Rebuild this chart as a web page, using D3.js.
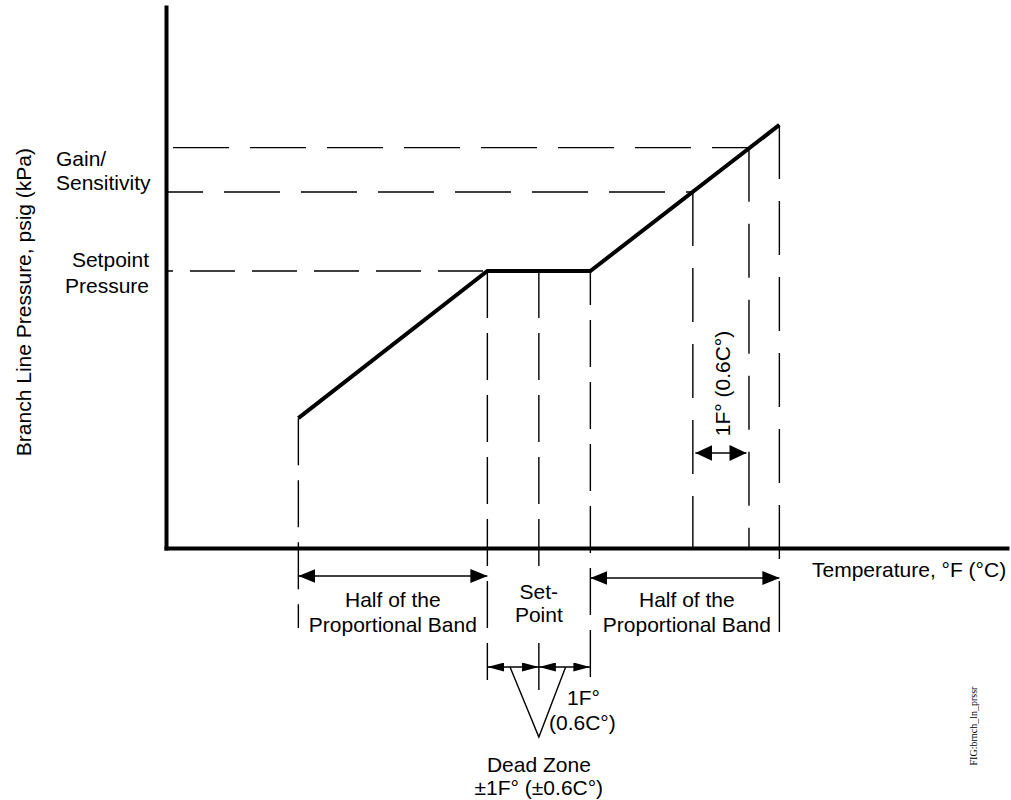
<!DOCTYPE html>
<html><head><meta charset="utf-8">
<script src="https://cdn.jsdelivr.net/npm/d3@7"></script>
<style>
body{margin:0;background:#fff}
svg{display:block}
text{font-family:"Liberation Sans",Arial,Helvetica,sans-serif;fill:#000}
</style>
</head><body>
<svg id="c" width="1011" height="800"></svg>
<script>
// ---------------- data ----------------
// temperature, °F relative to the setpoint
const breakTemps = [-4.67, -1, 1, 4.67];
// branch line pressure, % of full scale
const breakPressures = [24.0, 51.2, 51.2, 78.2];
const setpointTemp = 0;
const deadZoneTemps = [-1, 0, 1];
const gainTemps = [2.99, 4.08];
const gainPressures = [65.8, 74.0];
const setpointPressure = 51.2;
const vApexTemps = [-0.56, 0, 0.52];

const yAxisTitle = "Branch Line Pressure, psig (kPa)";
const xAxisTitle = "Temperature, °F (°C)";
const gainLabel = ["Gain/", "Sensitivity"];
const setpointLabel = ["Setpoint", "Pressure"];
const halfBandLabel = ["Half of the", "Proportional Band"];
const setPointLabel = ["Set-", "Point"];
const oneDegLabel = ["1F°", "(0.6C°)"];
const deadZoneLabel = ["Dead Zone", "±1F° (±0.6C°)"];
const oneDegRotLabel = "1F° (0.6C°)";
const figLabel = "FIG:brnch_ln_prssr";

// ---------------- scales ----------------
const svg = d3.select("#c");
const x = d3.scaleLinear().domain([-7.24, 9.09]).range([166, 1007]);
const y = d3.scaleLinear().domain([0, 100]).range([548, 7]);

const FS = 21;
const thin = 1.4;

// markers
const defs = svg.append("defs");
function marker(id, L, h) {
  defs.append("marker").attr("id", id)
    .attr("viewBox", `0 ${-h} ${L} ${2*h}`)
    .attr("refX", L).attr("refY", 0)
    .attr("markerWidth", L).attr("markerHeight", 2*h)
    .attr("markerUnits", "userSpaceOnUse")
    .attr("orient", "auto-start-reverse")
    .append("path").attr("d", `M0,${-h}L${L},0L0,${h}Z`).attr("fill", "#000");
}
marker("big", 17, 7);
marker("small", 17, 4.5);
marker("mid", 17, 8);

// ---------------- dashed guides ----------------
const g = svg.append("g").attr("stroke", "#000").attr("stroke-width", thin).attr("fill", "none");
function vline(t, y1, y2, dash, off) {
  g.append("line").attr("x1", x(t)).attr("x2", x(t)).attr("y1", y1).attr("y2", y2)
    .attr("stroke-dasharray", dash).attr("stroke-dashoffset", off || 0);
}
function hline(p, t2, dash, off) {
  g.append("line").attr("x1", x.range()[0]).attr("x2", x(t2)).attr("y1", y(p)).attr("y2", y(p))
    .attr("stroke-dasharray", dash).attr("stroke-dashoffset", off || 0);
}
// horizontal guides
hline(gainPressures[1], gainTemps[1], "56,21", 70);
hline(gainPressures[0], gainTemps[0], "56,21", 19);
hline(setpointPressure, breakTemps[1], "45,17", 38);

// vertical guides
vline(breakTemps[0], y(breakPressures[0]), 628, "47,15", 0);
vline(deadZoneTemps[0], y(setpointPressure), 680, "47,15", 0);
vline(setpointTemp, y(setpointPressure), 695, "47,15", 0);
vline(deadZoneTemps[2], y(setpointPressure), 680, "47,15", 13);
vline(gainTemps[0], y(gainPressures[0]), 548, "54,22", 0);
vline(gainTemps[1], y(gainPressures[1]), 548, "54,22", 0);
vline(breakTemps[3], y(breakPressures[3]), 632, "54,22", 0);

// ---------------- axes ----------------
svg.append("g").attr("transform", `translate(0,${y(0)})`)
  .call(d3.axisBottom(x).ticks(0).tickSizeOuter(0));
svg.append("g").attr("transform", `translate(${x.range()[0]},0)`)
  .call(d3.axisLeft(y).ticks(0).tickSizeOuter(0));
svg.selectAll(".domain").attr("stroke", "#000").attr("stroke-width", 4).attr("stroke-linecap", "square");

// ---------------- response line ----------------
const pts = breakTemps.map((t, i) => [t, breakPressures[i]]);
svg.append("path").datum(pts)
  .attr("d", d3.line().x(d => x(d[0])).y(d => y(d[1])))
  .attr("fill", "none").attr("stroke", "#000").attr("stroke-width", 4)
  .attr("stroke-linejoin", "miter");

// ---------------- dimension arrows ----------------
const a = svg.append("g").attr("stroke", "#000").attr("stroke-width", thin).attr("fill", "none");
function arrow(t1, t2, yy, m, inset) {
  inset = inset || 0;
  a.append("line").attr("x1", x(t1) + inset).attr("x2", x(t2) - inset).attr("y1", yy).attr("y2", yy)
    .attr("marker-start", `url(#${m})`).attr("marker-end", `url(#${m})`);
}
arrow(breakTemps[0], breakTemps[1], 576, "big");
arrow(breakTemps[2], breakTemps[3], 578, "big");
arrow(deadZoneTemps[0], deadZoneTemps[1], 667, "small");
arrow(deadZoneTemps[1], deadZoneTemps[2], 667, "small");
arrow(gainTemps[0], gainTemps[1], 453, "mid", 2.5);

// V pointer
a.append("path").attr("d", d3.line()([
  [x(vApexTemps[0]), 667], [x(vApexTemps[1]), 737], [x(vApexTemps[2]), 667]
]));

// ---------------- texts ----------------
const T = svg.append("g").attr("font-size", FS);
function lines(arr, xx, y0, dy, anchor) {
  arr.forEach((s, i) => T.append("text").attr("x", xx).attr("y", y0 + i * dy)
    .attr("text-anchor", anchor).text(s));
}
lines(gainLabel, 56, 166, 24, "start");
lines(setpointLabel, 149, 267, 26, "end");
lines(halfBandLabel, (x(breakTemps[0]) + x(breakTemps[1])) / 2, 607, 25, "middle");
lines(halfBandLabel, (x(breakTemps[2]) + x(breakTemps[3])) / 2 + 2, 607, 25, "middle");

// Set-Point with white knockout
const spG = svg.append("g").attr("font-size", FS);
spG.append("rect").attr("x", x(setpointTemp) - 20).attr("y", 580).attr("width", 40).attr("height", 48).attr("fill", "#fff");
setPointLabel.forEach((s, i) => spG.append("text").attr("x", x(setpointTemp)).attr("y", 599 + i * 23)
  .attr("text-anchor", "middle").text(s));

T.append("text").attr("x", 567).attr("y", 705).text(oneDegLabel[0]);
T.append("text").attr("x", 549).attr("y", 730).text(oneDegLabel[1]);
lines(deadZoneLabel, x(setpointTemp), 772, 23, "middle");
T.append("text").attr("x", 812).attr("y", 577).text(xAxisTitle);

T.append("text").attr("transform", `translate(31,148) rotate(-90)`)
  .attr("text-anchor", "end").text(yAxisTitle);
T.append("text").attr("transform", `translate(730,383.5) rotate(-90)`)
  .attr("text-anchor", "middle").text(oneDegRotLabel);

svg.append("text").attr("transform", "translate(977,726) rotate(-90)")
  .attr("text-anchor", "middle")
  .style("font-family", "'Liberation Serif','Times New Roman',serif")
  .attr("font-size", 10).attr("fill", "#222").text(figLabel);
</script>
</body></html>
